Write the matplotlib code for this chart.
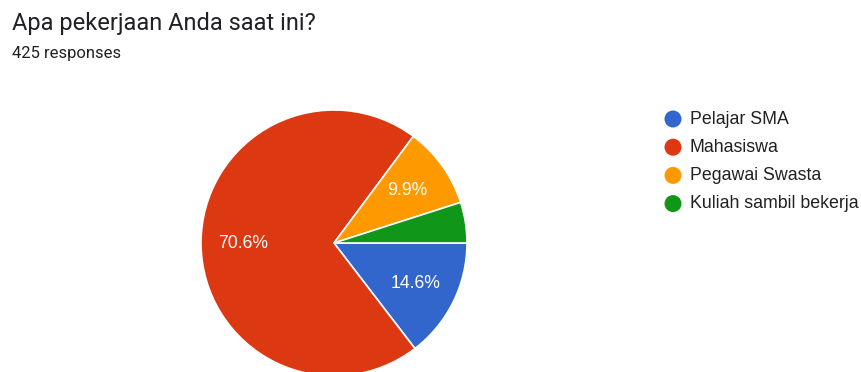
import matplotlib
matplotlib.use('Agg')
import matplotlib.pyplot as plt

plt.rcParams['font.family'] = ['Roboto', 'DejaVu Sans']

# data
categories = ['Pelajar SMA', 'Mahasiswa', 'Pegawai Swasta', 'Kuliah sambil bekerja']
counts = [62, 300, 42, 21]
colors = ['#3366cc', '#dc3912', '#ff9900', '#109618']
title = 'Apa pekerjaan Anda saat ini?'
subtitle = '425 responses'

W, H = 861, 372
fig = plt.figure(figsize=(W / 100, H / 100), dpi=100)

# pie centre ~ (334, 243) px, radius ~133 px
cx, cy, r = 334, 243, 133
ax = fig.add_axes([(cx - r) / W, (H - cy - r) / H, 2 * r / W, 2 * r / H])


def pct(p):
    # google hides labels on small slices
    return '%.1f%%' % p if p >= 5 else ''


wedges, texts, autotexts = ax.pie(
    counts,
    colors=colors,
    startangle=0,
    counterclock=False,
    autopct=pct,
    pctdistance=0.68,
    wedgeprops=dict(edgecolor='white', linewidth=1.2, clip_on=False),
    textprops=dict(color='white', fontsize=12.7, family='Liberation Sans'),
)
ax.set_xlim(-1, 1)
ax.set_ylim(-1, 1)
ax.set_aspect('equal')

fig.text(12 / W, 1 - 30 / H, title, fontsize=17, color='#202124', va='baseline')
fig.text(12 / W, 1 - 58 / H, subtitle, fontsize=12, color='#202124', va='baseline')

# legend drawn in a pixel-space axes
lx0, lx1, ly0, ly1 = 640, 861, 100, 220
lax = fig.add_axes([lx0 / W, 1 - ly1 / H, (lx1 - lx0) / W, (ly1 - ly0) / H])
lax.set_xlim(lx0, lx1)
lax.set_ylim(ly1, ly0)
lax.axis('off')
for i, (name, c) in enumerate(zip(categories, colors)):
    y = 119 + 28.2 * i
    lax.scatter([673], [y], s=150, color=c, edgecolors='none', clip_on=False)
    lax.text(690, y, name, fontsize=12.8, family='Liberation Sans',
             color='#202124', va='center', ha='left', clip_on=False)

fig.savefig('out.png', dpi=100)
